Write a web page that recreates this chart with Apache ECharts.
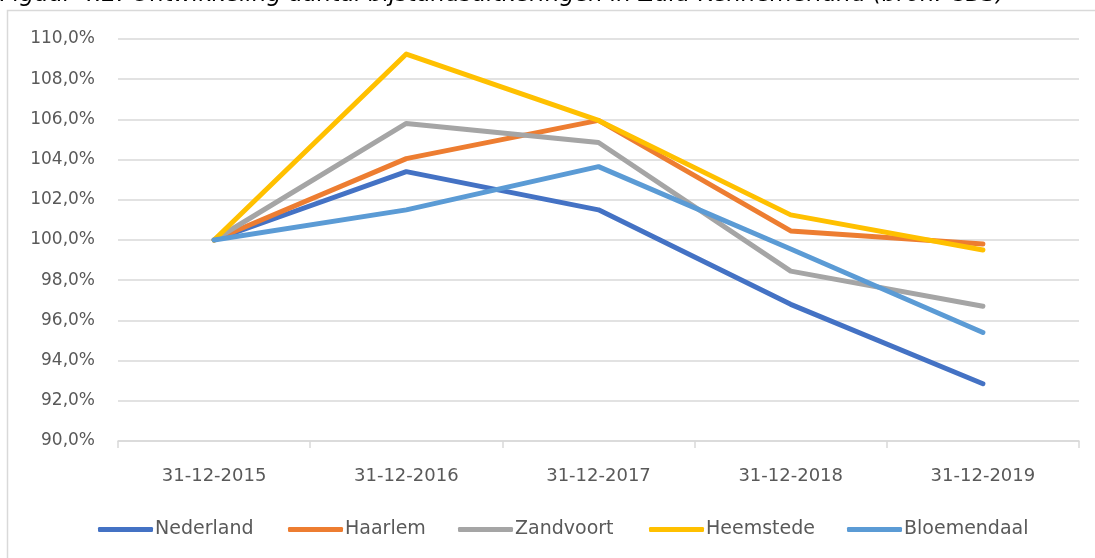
<!DOCTYPE html>
<html>
<head>
    <meta charset="utf-8" />
    <title>Bijstandsuitkeringen</title>
    <script src="https://cdn.jsdelivr.net/npm/echarts@6/dist/echarts.min.js"></script>
    <style>
        html, body { margin: 0; padding: 0; background: #fff; }
        #chart { width: 1095px; height: 558px; }
    </style>
</head>
<body>
    <div id="chart"></div>
    <script>
        var titleText = 'Figuur 4.2: Ontwikkeling aantal bijstandsuitkeringen in Zuid-Kennemerland (bron: CBS)';
        var categories = ['31-12-2015', '31-12-2016', '31-12-2017', '31-12-2018', '31-12-2019'];

        var nederland   = [100.0, 103.4, 101.5, 96.8, 92.85];
        var haarlem     = [100.0, 104.05, 105.95, 100.45, 99.8];
        var zandvoort   = [100.0, 105.8, 104.85, 98.45, 96.7];
        var heemstede   = [100.0, 109.25, 105.95, 101.25, 99.5];
        var bloemendaal = [100.0, 101.5, 103.65, 99.55, 95.4];

        var seriesNames = ['Nederland', 'Haarlem', 'Zandvoort', 'Heemstede', 'Bloemendaal'];
        var seriesData = [nederland, haarlem, zandvoort, heemstede, bloemendaal];
        var colors = ['#4472C4', '#ED7D31', '#A5A5A5', '#FFC000', '#5B9BD5'];

        // left edge of each legend entry (excel spreads them out)
        var legendLeft = [93, 283, 453, 644, 842];

        var font = '"DejaVu Sans", sans-serif';

        var series = seriesNames.map(function (name, i) {
            return {
                name: name,
                type: 'line',
                data: seriesData[i],
                showSymbol: false,
                symbol: 'none',
                lineStyle: { width: 5, color: colors[i], cap: 'round', join: 'round' },
                itemStyle: { color: colors[i] },
                emphasis: { disabled: true }
            };
        });

        var legends = seriesNames.map(function (name, i) {
            return {
                left: legendLeft[i],
                top: 515,
                itemWidth: 55,
                itemHeight: 5,
                icon: 'roundRect',
                selectedMode: false,
                textStyle: { color: '#595959', fontSize: 19, fontFamily: font, padding: [0, 0, 0, -3] },
                data: [name]
            };
        });

        var myChart = echarts.init(document.getElementById('chart'));

        var option = {
            animation: false,
            color: colors,
            textStyle: { fontFamily: font },
            grid: { left: 118, right: 16, top: 39, bottom: 117 },
            graphic: [
                {
                    type: 'rect',
                    shape: { x: 7.5, y: 10.5, width: 1200, height: 700 },
                    style: { fill: null, stroke: '#d9d9d9', lineWidth: 1.5 },
                    silent: true
                },
                {
                    type: 'text',
                    style: {
                        x: 0, y: 6.5,
                        text: titleText,
                        font: 'italic 23px "DejaVu Sans", sans-serif',
                        fill: '#000',
                        verticalAlign: 'bottom'
                    },
                    silent: true
                }
            ],
            legend: legends,
            xAxis: {
                type: 'category',
                data: categories,
                boundaryGap: true,
                axisLine: { lineStyle: { color: '#d9d9d9', width: 1.5 } },
                axisTick: { show: true, length: 7, lineStyle: { color: '#d9d9d9', width: 1.5 } },
                axisLabel: { color: '#595959', fontSize: 18, margin: 26, fontFamily: font }
            },
            yAxis: {
                type: 'value',
                min: 90,
                max: 110,
                interval: 2,
                axisLine: { show: false },
                axisTick: { show: false },
                splitLine: { lineStyle: { color: '#d9d9d9', width: 1.5 } },
                axisLabel: {
                    color: '#595959',
                    fontSize: 17,
                    margin: 23,
                    fontFamily: font,
                    formatter: function (v) { return v.toFixed(1).replace('.', ',') + '%'; }
                }
            },
            series: series
        };

        myChart.setOption(option);
    </script>
</body>
</html>
